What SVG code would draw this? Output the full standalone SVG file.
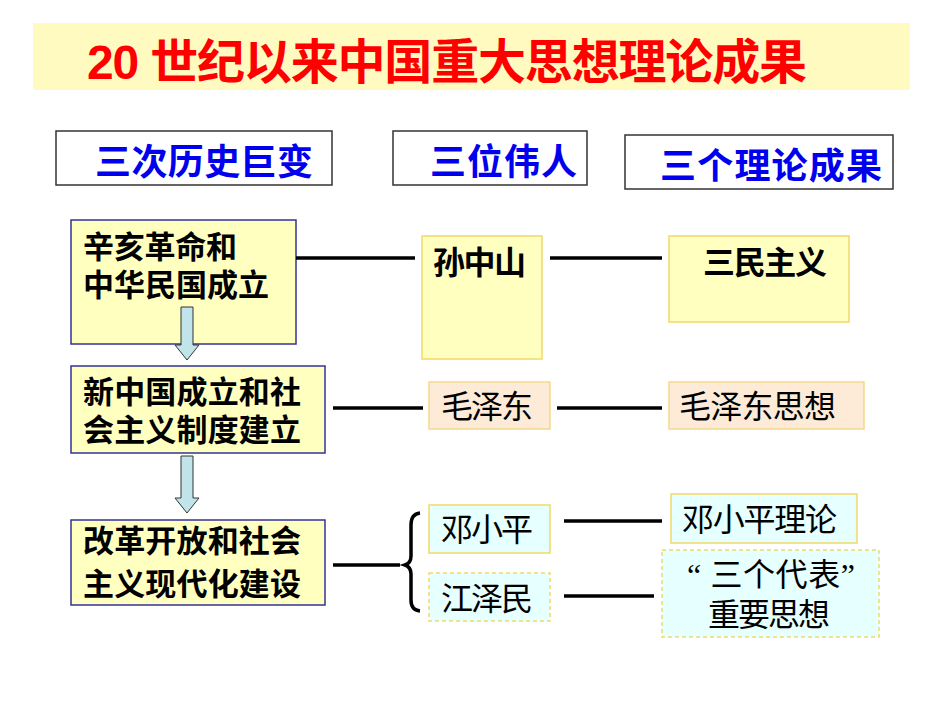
<svg xmlns="http://www.w3.org/2000/svg" width="950" height="713" viewBox="0 0 950 713">
<style>
.cjk{font-family:"Liberation Sans","Noto Sans CJK SC",sans-serif}
.bold{font-weight:bold}
.title{font-size:48px;fill:#FF0000;font-weight:bold}
.hdr{font-size:36px;fill:#0000EE;font-weight:bold}
.hbox{fill:#FFFFFF;stroke:#333333;stroke-width:1.5}
.ybox{fill:#FFFFC0;stroke:#333399;stroke-width:1.5}
.gbox{fill:#FFFFC0;stroke:#F2D96A;stroke-width:1.5}
.pbox{fill:#FDEBD8;stroke:#F5D98A;stroke-width:1.5}
.cbox{fill:#E6FFFF;stroke:#F2D96A;stroke-width:1.5}
.cdash{fill:#E6FFFF;stroke:#F2D96A;stroke-width:1.5;stroke-dasharray:4 3}
.t30{font-size:31px;fill:#000000}
.t31{font-size:32px;fill:#000000}
.line{stroke:#000000;stroke-width:3.5;fill:none}
.arrow{fill:#C0E4EA;stroke:#333333;stroke-width:1}
</style>
<rect width="950" height="713" fill="#FFFFFF"/>
<g id="title">
<rect x="33" y="23" width="877" height="67" fill="#FFFBC0"/>
<text class="cjk title" x="87" y="79" textLength="720" lengthAdjust="spacing">20 世纪以来中国重大思想理论成果</text>
</g>
<g id="header1">
<rect class="hbox" x="56" y="131" width="276" height="54"/>
<text class="cjk hdr" x="95" y="175" textLength="218" lengthAdjust="spacing">三次历史巨变</text>
</g>
<g id="header2">
<rect class="hbox" x="393" y="131" width="194" height="54"/>
<text class="cjk hdr" x="430" y="175" textLength="147" lengthAdjust="spacing">三位伟人</text>
</g>
<g id="header3">
<rect class="hbox" x="625" y="135" width="268" height="54"/>
<text class="cjk hdr" x="660" y="179" textLength="222" lengthAdjust="spacing">三个理论成果</text>
</g>
<g id="event1">
<rect class="ybox" x="71" y="220" width="225" height="124"/>
<text class="cjk bold t30" x="83" y="258" textLength="154" lengthAdjust="spacing">辛亥革命和</text>
<text class="cjk bold t30" x="83" y="296" textLength="186" lengthAdjust="spacing">中华民国成立</text>
</g>
<g id="event2">
<rect class="ybox" x="71" y="366" width="254" height="87"/>
<text class="cjk bold t30" x="83" y="403" textLength="218" lengthAdjust="spacing">新中国成立和社</text>
<text class="cjk bold t30" x="83" y="441" textLength="218" lengthAdjust="spacing">会主义制度建立</text>
</g>
<g id="event3">
<rect class="ybox" x="71" y="520" width="254" height="85"/>
<text class="cjk bold t30" x="83" y="552" textLength="218" lengthAdjust="spacing">改革开放和社会</text>
<text class="cjk bold t30" x="83" y="595" textLength="218" lengthAdjust="spacing">主义现代化建设</text>
</g>
<g id="sun">
<rect class="gbox" x="422" y="236" width="120" height="123"/>
<text class="cjk bold t31" x="433" y="274" textLength="93" lengthAdjust="spacing">孙中山</text>
</g>
<g id="sanmin">
<rect class="gbox" x="669" y="236" width="180" height="86"/>
<text class="cjk bold t31" x="703" y="274" textLength="124" lengthAdjust="spacing">三民主义</text>
</g>
<g id="mao">
<rect class="pbox" x="429" y="382" width="121" height="47"/>
<text class="cjk t31" x="441" y="418" textLength="92" lengthAdjust="spacing">毛泽东</text>
</g>
<g id="maothought">
<rect class="pbox" x="669" y="382" width="195" height="47"/>
<text class="cjk t31" x="679" y="418" textLength="157" lengthAdjust="spacing">毛泽东思想</text>
</g>
<g id="deng">
<rect class="cbox" x="429" y="505" width="121" height="48"/>
<text class="cjk t31" x="441" y="541" textLength="92" lengthAdjust="spacing">邓小平</text>
</g>
<g id="jiang">
<rect class="cdash" x="429" y="573" width="121" height="48"/>
<text class="cjk t31" x="441" y="610" textLength="92" lengthAdjust="spacing">江泽民</text>
</g>
<g id="dengtheory">
<rect class="cbox" x="671" y="494" width="186" height="49"/>
<text class="cjk t31" x="682" y="531" textLength="155" lengthAdjust="spacing">邓小平理论</text>
</g>
<g id="threerep">
<rect class="cdash" x="662" y="550" width="217" height="87"/>
<text x="687" y="586" font-size="32" fill="#000000" font-family="'Liberation Serif','Noto Sans CJK SC',serif" textLength="168" lengthAdjust="spacing">“ 三个代表”</text>
<text class="cjk t31" x="708" y="626" textLength="122" lengthAdjust="spacing">重要思想</text>
</g>
<g id="connectors">
<line class="line" x1="296" y1="258" x2="415" y2="258"/>
<line class="line" x1="550" y1="258" x2="662" y2="258"/>
<line class="line" x1="333" y1="408" x2="423" y2="408"/>
<line class="line" x1="557" y1="408" x2="662" y2="408"/>
<line class="line" x1="333" y1="565" x2="400" y2="565"/>
<path class="line" d="M420,513 Q411,514 411,525 L411,556 Q411,563 405,565 Q411,567 411,574 L411,600 Q411,610 420,611"/>
<line class="line" x1="564" y1="521" x2="662" y2="521"/>
<line class="line" x1="564" y1="596" x2="654" y2="596"/>
<polygon class="arrow" points="181,307 193,307 193,345 199,345 187,360 175,345 181,345"/>
<polygon class="arrow" points="181,456 193,456 193,498 199,498 187,513 175,498 181,498"/>
</g>
</svg>
